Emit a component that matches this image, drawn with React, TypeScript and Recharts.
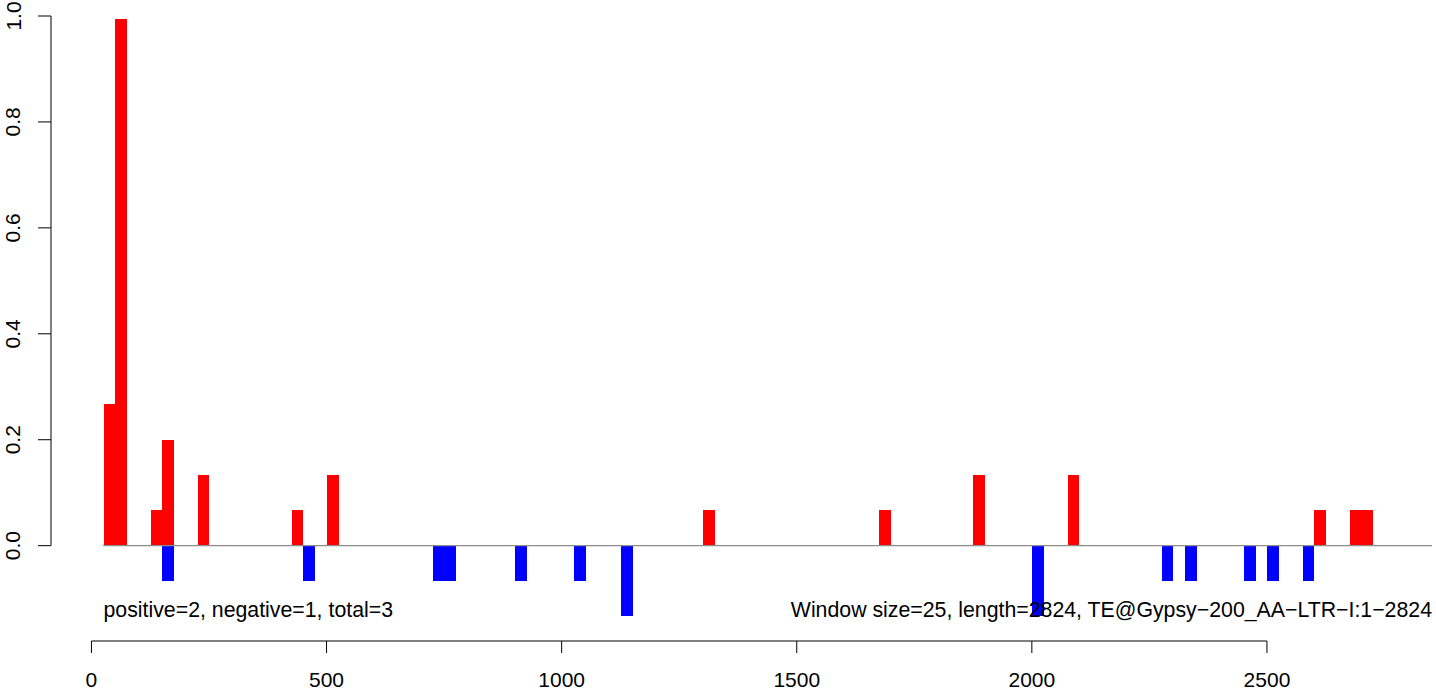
import { BarChart, Bar, XAxis, YAxis, ReferenceLine } from 'recharts';

// Window start positions (bp) and normalised signal for each strand
const posStarts = [25, 50, 125, 150, 225, 425, 500, 1300, 1675, 1875, 2075, 2600, 2675, 2700];
const posValues = [0.267, 0.994, 0.067, 0.2, 0.133, 0.067, 0.133, 0.067, 0.067, 0.133, 0.133, 0.067, 0.067, 0.067];

const negStarts = [150, 450, 725, 750, 900, 1025, 1125, 2000, 2275, 2325, 2450, 2500, 2575];
const negValues = [-0.067, -0.067, -0.067, -0.067, -0.067, -0.067, -0.133, -0.133, -0.067, -0.067, -0.067, -0.067, -0.067];

const xTicks = [0, 500, 1000, 1500, 2000, 2500];
const yTicks = [0, 0.2, 0.4, 0.6, 0.8, 1.0];

const WINDOW = 25;
const LENGTH = 2824;
const leftNote = 'positive=2, negative=1, total=3';
const rightNote = `Window size=${WINDOW}, length=${LENGTH}, TE@Gypsy\u2212200_AA\u2212LTR\u2212I:1\u2212${LENGTH}`;

const W = 1436;
const H = 691;
const X_DOMAIN: [number, number] = [-86, 2851];
const Y_DOMAIN: [number, number] = [-0.18, 1.0];
const FONT = '"Liberation Sans", Arial, Helvetica, sans-serif';
const PLOT_W = W - 51 - 4;
const BAR_W = (WINDOW * PLOT_W) / (X_DOMAIN[1] - X_DOMAIN[0]);

// one row per window, bar centred in the window
function buildData() {
  const starts = Array.from(new Set([...posStarts, ...negStarts])).sort((a, b) => a - b);
  return starts.map((s) => {
    const pi = posStarts.indexOf(s);
    const ni = negStarts.indexOf(s);
    return {
      x: s + WINDOW / 2,
      pos: pi >= 0 ? posValues[pi] : 0,
      neg: ni >= 0 ? negValues[ni] : 0,
    };
  });
}

// recharts rounds bar widths; redraw at the exact window width so neighbours touch
const WindowBar = ({ x, y, width, height, fill }: any) => {
  if (!height) return null;
  const cx = x + width / 2;
  const top = height < 0 ? y + height : y;
  return (
    <rect
      x={cx - BAR_W / 2}
      y={top}
      width={BAR_W}
      height={Math.abs(height)}
      fill={fill}
      shapeRendering="crispEdges"
    />
  );
};

const XTick = ({ x, payload }: any) => (
  <g>
    <line x1={x} x2={x} y1={641} y2={653} stroke="#000" strokeWidth={1} />
    <text x={x} y={686.5} textAnchor="middle" fontSize={21} fontFamily={FONT} fill="#000">
      {payload.value}
    </text>
  </g>
);

const YTick = ({ y, payload }: any) => (
  <g>
    <line x1={38} x2={51} y1={y} y2={y} stroke="#000" strokeWidth={1} />
    <text
      x={20.5}
      y={y}
      transform={`rotate(-90, 20.5, ${y})`}
      textAnchor="middle"
      fontSize={21}
      fontFamily={FONT}
      fill="#000"
    >
      {Number(payload.value).toFixed(1)}
    </text>
  </g>
);

export default function App() {
  const data = buildData();

  return (
    <div style={{ position: 'absolute', left: 0, top: 0, width: W, height: H, background: '#fff' }}>
      <BarChart
        width={W}
        height={H}
        data={data}
        stackOffset="sign"
        margin={{ top: 16, right: 4, bottom: 0, left: 0 }}
      >
        <XAxis
          dataKey="x"
          type="number"
          domain={X_DOMAIN}
          allowDataOverflow
          ticks={xTicks}
          axisLine={false}
          tickLine={false}
          tick={<XTick />}
          height={50}
          interval={0}
        />
        <YAxis
          type="number"
          domain={Y_DOMAIN}
          allowDataOverflow
          ticks={yTicks}
          axisLine={false}
          tickLine={false}
          tick={<YTick />}
          width={51}
          interval={0}
        />
        <Bar dataKey="pos" stackId="s" fill="#ff0000" barSize={BAR_W} shape={<WindowBar />} isAnimationActive={false} />
        <Bar dataKey="neg" stackId="s" fill="#0000ff" barSize={BAR_W} shape={<WindowBar />} isAnimationActive={false} />
        <ReferenceLine
          segment={[{ x: 25, y: 0 }, { x: X_DOMAIN[1], y: 0 }]}
          stroke="#8c8c8c"
          strokeWidth={1.3}
        />
        <ReferenceLine
          segment={[{ x: X_DOMAIN[0], y: 0 }, { x: X_DOMAIN[0], y: 1 }]}
          stroke="#000"
          strokeWidth={1}
        />
        <ReferenceLine
          segment={[{ x: 0, y: Y_DOMAIN[0] }, { x: 2500, y: Y_DOMAIN[0] }]}
          stroke="#000"
          strokeWidth={1}
        />
      </BarChart>
      <svg
        width={W}
        height={H}
        style={{ position: 'absolute', left: 0, top: 0, pointerEvents: 'none' }}
      >
        <text x={103.5} y={617} fontSize={21.3} fontFamily={FONT} fill="#000">
          {leftNote}
        </text>
        <text x={1432} y={617} textAnchor="end" fontSize={21.3} fontFamily={FONT} fill="#000">
          {rightNote}
        </text>
      </svg>
    </div>
  );
}
